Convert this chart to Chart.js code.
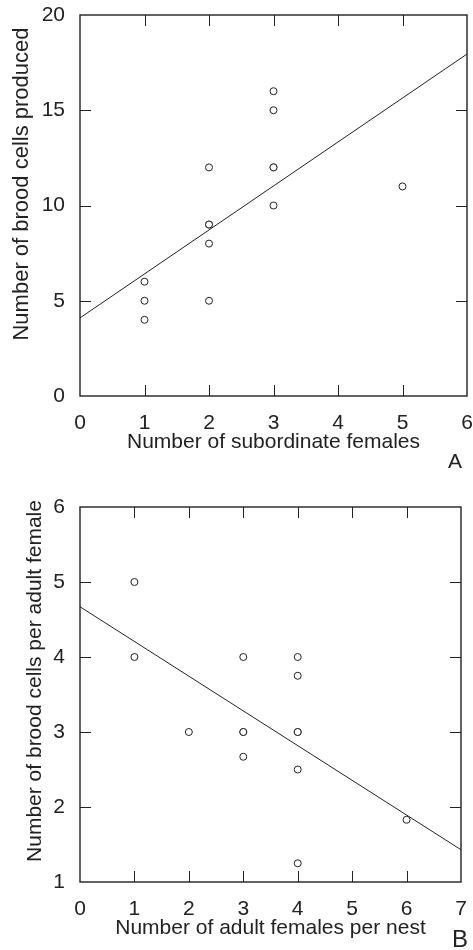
<!DOCTYPE html>
<html>
<head>
<meta charset="utf-8">
<script src="https://cdn.jsdelivr.net/npm/chart.js@4.4.1/dist/chart.umd.min.js"></script>
<style>
  html, body { margin: 0; padding: 0; background: #fff; }
  .panel { position: absolute; left: 0; width: 473px; height: 475px; }
  #panelA { top: 0; }
  #panelB { top: 475px; }
</style>
</head>
<body>
<div class="panel" id="panelA"><canvas id="chartA" width="473" height="475"></canvas></div>
<div class="panel" id="panelB"><canvas id="chartB" width="473" height="475"></canvas></div>
<script>
// Panel A: brood cells vs subordinate females
const subFemales = [1, 1, 1, 2, 2, 2, 2, 2, 3, 3, 3, 3, 3, 5];
const broodCells = [4, 5, 6, 5, 8, 9, 9, 12, 10, 12, 12, 15, 16, 11];
const fitAX = [0, 6];
const fitAY = [4.1, 17.95];
const xTicksA = [0, 1, 2, 3, 4, 5, 6];
const yTicksA = [0, 5, 10, 15, 20];

// Panel B: brood cells per female vs adult females per nest
const adultFemales = [1, 1, 2, 3, 3, 3, 3, 4, 4, 4, 4, 4, 4, 6];
const cellsPerFemale = [5, 4, 3, 4, 3, 3, 2.67, 4, 3.75, 3, 3, 2.5, 1.25, 1.83];
const fitBX = [0, 7];
const fitBY = [4.67, 1.43];
const xTicksB = [0, 1, 2, 3, 4, 5, 6, 7];
const yTicksB = [1, 2, 3, 4, 5, 6];

const INK = '#222';
const FONT = "'Liberation Sans', Arial, sans-serif";

// frame, inward tick marks, rotated y title and panel letter
const paperFrame = {
  id: 'paperFrame',
  afterDatasetsDraw(chart, args, opts) {
    const { ctx, chartArea: a, scales } = chart;
    const tl = 11;
    ctx.save();
    ctx.strokeStyle = INK;
    ctx.lineWidth = 1.4;
    ctx.strokeRect(a.left, a.top, a.right - a.left, a.bottom - a.top);

    ctx.lineWidth = 1;
    ctx.beginPath();
    scales.x.ticks.slice(1, -1).forEach((t) => {
      const px = Math.round(scales.x.getPixelForValue(t.value)) + 0.5;
      ctx.moveTo(px, a.bottom); ctx.lineTo(px, a.bottom - tl);
      ctx.moveTo(px, a.top); ctx.lineTo(px, a.top + tl);
    });
    scales.y.ticks.slice(1, -1).forEach((t) => {
      const py = Math.round(scales.y.getPixelForValue(t.value)) + 0.5;
      ctx.moveTo(a.left, py); ctx.lineTo(a.left + tl, py);
      ctx.moveTo(a.right, py); ctx.lineTo(a.right - tl, py);
    });
    ctx.stroke();

    ctx.fillStyle = INK;
    ctx.textAlign = 'center';
    ctx.textBaseline = 'middle';
    ctx.font = `${opts.yTitleSize}px ${FONT}`;
    ctx.save();
    ctx.translate(opts.yTitleX, opts.yTitleY);
    ctx.rotate(-Math.PI / 2);
    ctx.fillText(opts.yTitle, 0, 0);
    ctx.restore();

    ctx.font = `${opts.letterSize}px ${FONT}`;
    ctx.fillText(opts.letter, opts.letterX, opts.letterY);
    ctx.restore();
  }
};

function toPoints(xs, ys) {
  return xs.map((x, i) => ({ x: x, y: ys[i] }));
}

// drop the label overhang padding so layout.padding sets the plot box exactly
function noOverhang(s) {
  s.paddingLeft = 0;
  s.paddingRight = 0;
  s.paddingTop = 0;
  s.paddingBottom = 0;
}

function makePanel(id, cfg) {
  return new Chart(document.getElementById(id), {
    type: 'scatter',
    data: {
      datasets: [
        {
          data: toPoints(cfg.xs, cfg.ys),
          pointRadius: 3.5,
          pointBorderWidth: 1,
          borderColor: INK,
          backgroundColor: '#fff',
          order: 1
        },
        {
          type: 'line',
          data: toPoints(cfg.fitX, cfg.fitY),
          borderColor: INK,
          borderWidth: 1,
          pointRadius: 0,
          fill: false,
          order: 2
        }
      ]
    },
    options: {
      responsive: false,
      animation: false,
      layout: { padding: cfg.pad },
      plugins: {
        legend: { display: false },
        tooltip: { enabled: false },
        paperFrame: cfg.frame
      },
      scales: {
        x: {
          type: 'linear',
          min: cfg.xTicks[0],
          max: cfg.xTicks[cfg.xTicks.length - 1],
          afterBuildTicks: (s) => { s.ticks = cfg.xTicks.map((v) => ({ value: v })); },
          afterFit: (s) => { s.height = cfg.xHeight; noOverhang(s); },
          grid: { display: false },
          border: { display: false },
          ticks: { font: { family: FONT, size: 21 }, color: INK, padding: 7, maxRotation: 0 },
          title: {
            display: true,
            text: cfg.xTitle,
            font: { family: FONT, size: 21 },
            color: INK,
            padding: { top: 0, bottom: cfg.xTitlePad }
          }
        },
        y: {
          type: 'linear',
          min: cfg.yTicks[0],
          max: cfg.yTicks[cfg.yTicks.length - 1],
          afterBuildTicks: (s) => { s.ticks = cfg.yTicks.map((v) => ({ value: v })); },
          afterFit: (s) => { s.width = 80; noOverhang(s); },
          grid: { display: false },
          border: { display: false },
          ticks: { font: { family: FONT, size: 21 }, color: INK, padding: 7 }
        }
      }
    },
    plugins: [paperFrame]
  });
}

makePanel('chartA', {
  xs: subFemales, ys: broodCells, fitX: fitAX, fitY: fitAY,
  xTicks: xTicksA, yTicks: yTicksA,
  pad: { top: 15, right: 6, left: 0, bottom: 0 },
  xHeight: 79, xTitlePad: 20,
  xTitle: 'Number of subordinate females',
  frame: { yTitle: 'Number of brood cells produced', yTitleSize: 22, yTitleX: 22, yTitleY: 184, letter: 'A', letterSize: 21, letterX: 455, letterY: 462 }
});

makePanel('chartB', {
  xs: adultFemales, ys: cellsPerFemale, fitX: fitBX, fitY: fitBY,
  xTicks: xTicksB, yTicks: yTicksB,
  pad: { top: 32, right: 12, left: 0, bottom: 0 },
  xHeight: 68, xTitlePad: 9,
  xTitle: 'Number of adult females per nest',
  frame: { yTitle: 'Number of brood cells per adult female', yTitleSize: 21, yTitleX: 35, yTitleY: 206, letter: 'B', letterSize: 24, letterX: 460, letterY: 465 }
});
</script>
</body>
</html>
